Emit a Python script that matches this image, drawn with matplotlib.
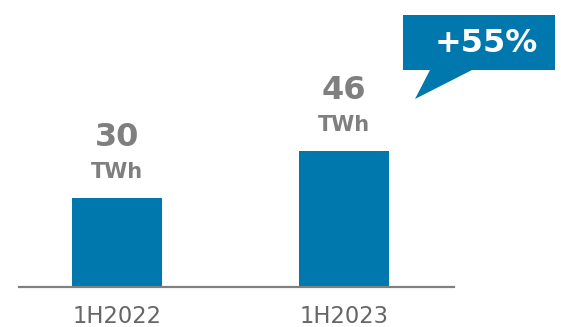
import matplotlib
matplotlib.use("Agg")
import matplotlib.pyplot as plt
from matplotlib.patches import Polygon

categories = ["1H2022", "1H2023"]
values = [30, 46]
unit = "TWh"
growth_label = "+55%"

W, H = 561, 327
BLUE = "#0078AD"
GRAY_NUM = "#7F7F7F"
GRAY_TICK = "#666666"

fig = plt.figure(figsize=(W / 100, H / 100), dpi=100)

# axes placement in pixels (top-origin)
ax_left, ax_right = 19, 454
base_y = 286.5
ax = fig.add_axes([ax_left / W, (H - base_y) / H, (ax_right - ax_left) / W, base_y / H])
px_per_x = 227.0
xs = list(range(len(categories)))
ax.set_xlim(-(117 - ax_left) / px_per_x, 1 + (ax_right - 344) / px_per_x)
px_per_unit = 2.95
ax.set_ylim(0, base_y / px_per_unit)

ax.bar(xs, values, width=90 / px_per_x, color=BLUE, zorder=2)

for s in ["top", "right", "left"]:
    ax.spines[s].set_visible(False)
ax.spines["bottom"].set_color("#808080")
ax.spines["bottom"].set_linewidth(1.6)
ax.set_yticks([])
ax.set_xticks(xs)
ax.set_xticklabels(categories, fontsize=16.3, color=GRAY_TICK)
ax.tick_params(axis="x", length=0, pad=13)

for x, v in zip(xs, values):
    ax.annotate(f"{v}", (x, v), xytext=(0, 60), textcoords="offset pixels",
                ha="center", va="center", fontsize=23, fontweight="bold", color=GRAY_NUM)
    ax.annotate(unit, (x, v), xytext=(0, 26), textcoords="offset pixels",
                ha="center", va="center", fontsize=15, fontweight="bold", color=GRAY_NUM)

# callout box
pts_px = [(403, 15), (555, 15), (555, 70), (472, 70), (415, 99), (430, 70), (403, 70)]
pts = [(x / W, (H - y) / H) for x, y in pts_px]
fig.patches.append(Polygon(pts, closed=True, transform=fig.transFigure,
                           facecolor=BLUE, edgecolor="none"))
fig.text(486 / W, (H - 44) / H, growth_label, ha="center", va="center",
         fontsize=23, fontweight="bold", color="white")

fig.savefig("out.png", dpi=100)
